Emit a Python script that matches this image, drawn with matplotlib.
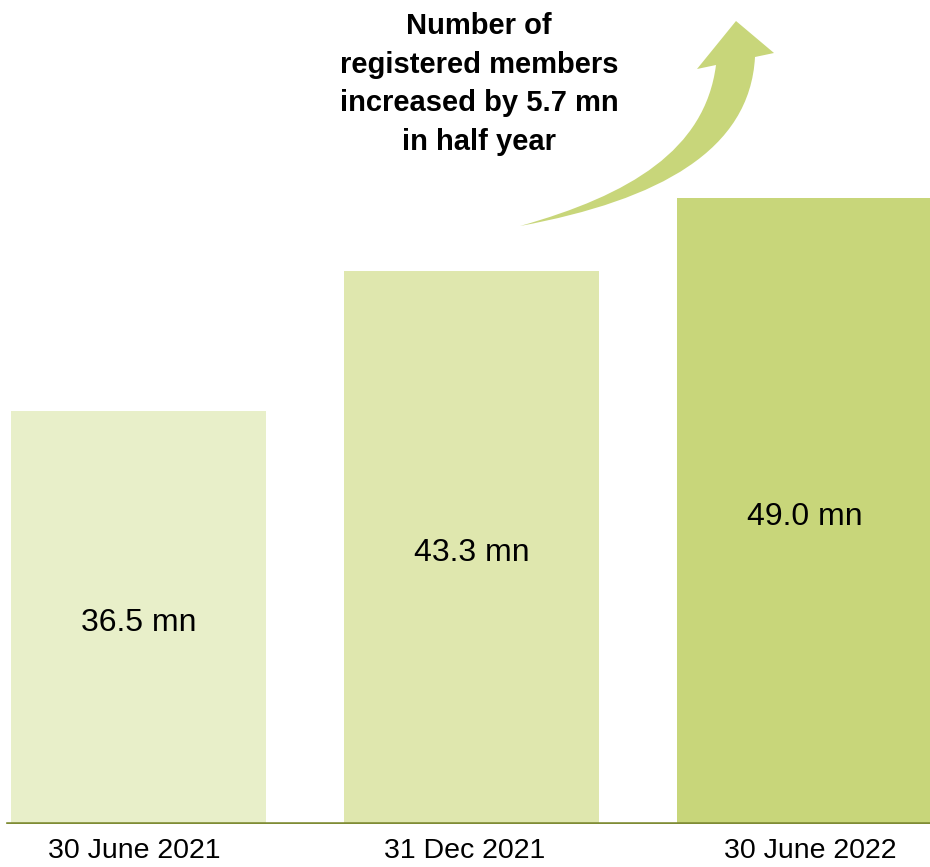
import matplotlib
matplotlib.use('Agg')
import matplotlib.pyplot as plt
import matplotlib.patches as patches
from matplotlib.path import Path

plt.rcParams['font.family'] = ['Liberation Sans', 'DejaVu Sans']

dates = ['30 June 2021', '31 Dec 2021', '30 June 2022']
members = [36.5, 43.3, 49.0]          # mn, as printed on the bars
bar_heights = [32.3, 43.3, 49.0]      # heights as drawn (first bar is not to scale)
bar_colors = ['#E8EFC9', '#DFE7AE', '#C8D67A']
note = 'Number of\nregistered members\nincreased by 5.7 mn\nin half year'

W, H = 930, 867
fig = plt.figure(figsize=(W / 100, H / 100), dpi=100)
ax = fig.add_axes([0, 1 - 824 / H, 1, 824 / H])

x = list(range(len(dates)))
ax.bar(x, bar_heights, width=0.765, color=bar_colors, zorder=1)
for xi, h, v in zip(x, bar_heights, members):
    ax.text(xi, h / 2 - 0.45, '{:.1f} mn'.format(v), ha='center', va='center',
            fontsize=23, color='black')

ax.axhline(0, xmin=8 / W, xmax=1, color='#7F8C35', lw=2.6, zorder=3)

ax.set_xlim(-0.416, 2.377)
ax.set_ylim(0, 64.5)
ax.set_yticks([])
ax.set_xticks([])
for s in ax.spines.values():
    s.set_visible(False)

# date labels under the bars
lab_dx = [-0.013, -0.02, 0.017]
lab_y = -(858 - 824) / 824
for xi, d, dx in zip(x, dates, lab_dx):
    ax.text(xi + dx, lab_y, d, transform=ax.get_xaxis_transform(), ha='center',
            va='baseline', fontsize=20.5)

# curved arrow drawn in pixel coordinates of the figure
def px(a, b):
    return (a / W, 1 - b / H)

verts = [px(520, 226), px(630, 195), px(705, 150), px(716, 65),
         px(697, 69), px(736, 21), px(774, 53), px(755, 57),
         px(750, 150), px(660, 200), px(520, 226), px(520, 226)]
codes = [Path.MOVETO, Path.CURVE4, Path.CURVE4, Path.CURVE4,
         Path.LINETO, Path.LINETO, Path.LINETO, Path.LINETO,
         Path.CURVE4, Path.CURVE4, Path.CURVE4, Path.CLOSEPOLY]
arrow = patches.PathPatch(Path(verts, codes), facecolor='#C8D67A',
                          edgecolor='none', transform=fig.transFigure)
fig.patches.append(arrow)

fig.text(479 / W, 1 - 84 / H, note, ha='center', va='center',
         fontsize=21, fontweight='bold', linespacing=1.47)

fig.savefig('out.png', dpi=100)
